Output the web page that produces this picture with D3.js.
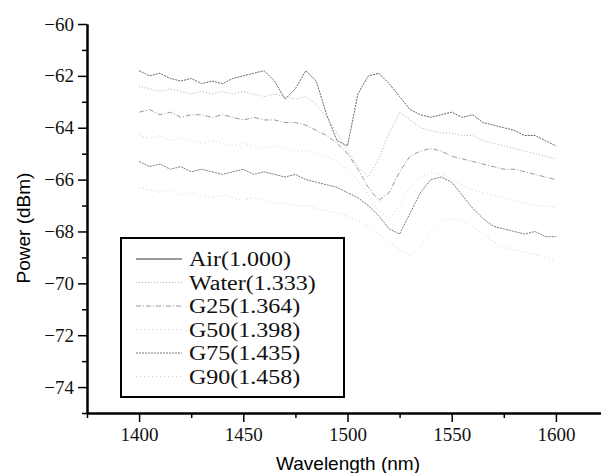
<!DOCTYPE html>
<html>
<head>
<meta charset="utf-8">
<script src="https://cdn.jsdelivr.net/npm/d3@7"></script>
<style>
  body { margin: 0; background: #fff; }
  svg { display: block; }
</style>
</head>
<body>
<svg id="chart" width="601" height="473"></svg>
<script>
// wavelength samples (nm)
const wavelengths = [1400, 1405, 1410, 1415, 1420, 1425, 1430, 1435, 1440, 1445,
  1450, 1455, 1460, 1465, 1470, 1475, 1480, 1485, 1490, 1495,
  1500, 1505, 1510, 1515, 1520, 1525, 1530, 1535, 1540, 1545,
  1550, 1555, 1560, 1565, 1570, 1575, 1580, 1585, 1590, 1595, 1600];

// power (dBm)
const air = [-61.8, -62.0, -61.9, -62.1, -62.2, -62.1, -62.3, -62.2, -62.3, -62.1,
  -62.0, -61.9, -61.8, -62.2, -62.9, -62.5, -61.8, -62.2, -63.5, -64.5,
  -64.7, -62.7, -62.0, -61.9, -62.3, -62.8, -63.3, -63.5, -63.6, -63.5,
  -63.4, -63.6, -63.5, -63.8, -63.9, -64.0, -64.1, -64.3, -64.3, -64.5, -64.7];
const water = [-62.4, -62.5, -62.6, -62.5, -62.6, -62.7, -62.6, -62.7, -62.6, -62.7,
  -62.6, -62.7, -62.8, -62.7, -62.8, -62.9, -62.8, -63.1, -63.6, -64.2,
  -64.9, -65.5, -65.9, -65.2, -64.2, -63.4, -63.7, -64.0, -64.1, -64.2,
  -64.2, -64.3, -64.3, -64.5, -64.6, -64.7, -64.8, -64.9, -65.0, -65.1, -65.2];
const g25 = [-63.4, -63.3, -63.5, -63.4, -63.6, -63.5, -63.5, -63.6, -63.5, -63.6,
  -63.7, -63.6, -63.7, -63.7, -63.8, -63.8, -63.9, -64.1, -64.3, -64.6,
  -65.0, -65.6, -66.3, -66.8, -66.5, -65.7, -65.1, -64.9, -64.8, -64.9,
  -65.1, -65.2, -65.3, -65.4, -65.5, -65.6, -65.6, -65.7, -65.8, -65.9, -66.0];
const g50 = [-64.3, -64.4, -64.3, -64.5, -64.4, -64.5, -64.6, -64.5, -64.6, -64.7,
  -64.6, -64.7, -64.8, -64.7, -64.8, -64.9, -64.9, -65.0, -65.1, -65.3,
  -65.6, -66.0, -66.6, -67.2, -67.5, -67.0, -66.3, -65.9, -65.7, -65.8,
  -66.0, -66.2, -66.4, -66.5, -66.6, -66.7, -66.8, -66.9, -67.0, -67.0, -67.1];
const g75 = [-65.3, -65.5, -65.4, -65.6, -65.5, -65.7, -65.6, -65.7, -65.8, -65.7,
  -65.6, -65.8, -65.7, -65.8, -65.9, -65.8, -66.0, -66.1, -66.2, -66.3,
  -66.5, -66.7, -67.0, -67.4, -67.9, -68.1, -67.3, -66.5, -66.0, -65.9,
  -66.1, -66.6, -67.1, -67.5, -67.8, -67.9, -68.0, -68.1, -68.0, -68.2, -68.2];
const g90 = [-66.3, -66.4, -66.5, -66.4, -66.6, -66.5, -66.6, -66.7, -66.6, -66.7,
  -66.8, -66.7, -66.8, -66.9, -66.9, -67.0, -67.0, -67.1, -67.2, -67.3,
  -67.4, -67.6, -67.8, -68.1, -68.4, -68.7, -68.9, -68.6, -68.0, -67.6,
  -67.5, -67.6, -67.8, -68.1, -68.4, -68.6, -68.7, -68.8, -68.9, -69.0, -69.1];

const seriesNames = ["Air(1.000)", "Water(1.333)", "G25(1.364)", "G50(1.398)", "G75(1.435)", "G90(1.458)"];
const seriesValues = [air, water, g25, g50, g75, g90];

const xTicks = [1400, 1450, 1500, 1550, 1600];
const xMinorTicks = [1375, 1425, 1475, 1525, 1575, 1625];
const yTicks = [-60, -62, -64, -66, -68, -70, -72, -74];
const yMinorTicks = [-61, -63, -65, -67, -69, -71, -73, -75];

// line looks for each trace (scanned, speckled greys)
const styles = [
  { stroke: "#666", dash: "2,1" },
  { stroke: "#b0b0b0", dash: "1,2" },
  { stroke: "#999", dash: "5,2,1,2" },
  { stroke: "#d2d2d2", dash: "1,3" },
  { stroke: "#7a7a7a", dash: "2,1" },
  { stroke: "#d2d2d2", dash: "1,3" }
];

const serif = "'Liberation Serif', 'DejaVu Serif', serif";
const sans = "'Liberation Sans', Arial, sans-serif";

const svg = d3.select("#chart");

let x = d3.scaleLinear().domain([1375, 1625]).range([87, 608]);
let y = d3.scaleLinear().domain([-75, -60]).range([413, 24]);

// traces
const line = d3.line()
  .x((d, i) => x(wavelengths[i]))
  .y(d => y(d));

svg.append("g").attr("id", "traces")
  .selectAll("path")
  .data(seriesValues)
  .enter()
  .append("path")
  .attr("d", d => line(d))
  .attr("fill", "none")
  .attr("stroke", (d, i) => styles[i].stroke)
  .attr("stroke-width", 1)
  .attr("stroke-dasharray", (d, i) => styles[i].dash);

// axes
let xAxis = d3.axisBottom(x).tickValues(xTicks).tickFormat(d3.format("d"))
  .tickSize(9).tickPadding(6).tickSizeOuter(0);
let xMinor = d3.axisBottom(x).tickValues(xMinorTicks).tickSize(5).tickFormat("").tickSizeOuter(0);
let yAxis = d3.axisLeft(y).tickValues(yTicks).tickSize(9).tickPadding(4).tickSizeOuter(0);
let yMinor = d3.axisLeft(y).tickValues(yMinorTicks).tickSize(5).tickFormat("").tickSizeOuter(0);

svg.append("g").attr("transform", `translate(0, ${y(-75)})`).call(xMinor);
svg.append("g").attr("transform", `translate(${x(1375)}, 0)`).call(yMinor);
svg.append("g").attr("transform", `translate(0, ${y(-75)})`).call(xAxis);
svg.append("g").attr("transform", `translate(${x(1375)}, 0)`).call(yAxis);

svg.selectAll(".domain").attr("stroke", "#000").attr("stroke-width", 2);
svg.selectAll(".tick line").attr("stroke", "#000").attr("stroke-width", 1.5);
svg.selectAll(".tick text")
  .style("font-family", serif)
  .style("font-size", "19px")
  .attr("fill", "#111");

// axis titles
svg.append("text")
  .attr("x", 348)
  .attr("y", 470)
  .attr("text-anchor", "middle")
  .style("font-family", sans)
  .style("font-size", "19px")
  .text("Wavelength (nm)");

svg.append("text")
  .attr("transform", "translate(30, 228) rotate(-90)")
  .attr("text-anchor", "middle")
  .style("font-family", sans)
  .style("font-size", "19px")
  .text("Power (dBm)");

// legend
const legend = svg.append("g").attr("transform", "translate(121, 238)");
legend.append("rect")
  .attr("width", 223)
  .attr("height", 159)
  .attr("fill", "#fff")
  .attr("stroke", "#000")
  .attr("stroke-width", 2);

const rows = legend.selectAll("g.row")
  .data(seriesNames)
  .enter()
  .append("g")
  .attr("class", "row")
  .attr("transform", (d, i) => `translate(0, ${21 + i * 23.5})`);

rows.append("line")
  .attr("x1", 15).attr("x2", 61)
  .attr("stroke", (d, i) => i === 0 ? "#333" : styles[i].stroke)
  .attr("stroke-width", 1)
  .attr("stroke-dasharray", (d, i) => i === 0 ? null : styles[i].dash);

rows.append("text")
  .attr("x", 68)
  .attr("dy", "0.35em")
  .style("font-family", serif)
  .style("font-size", "20px")
  .attr("fill", "#111")
  .text(d => d)
  .each(function() {
    const w = this.getComputedTextLength();
    d3.select(this).attr("textLength", w * 1.2).attr("lengthAdjust", "spacingAndGlyphs");
  });
</script>
</body>
</html>
